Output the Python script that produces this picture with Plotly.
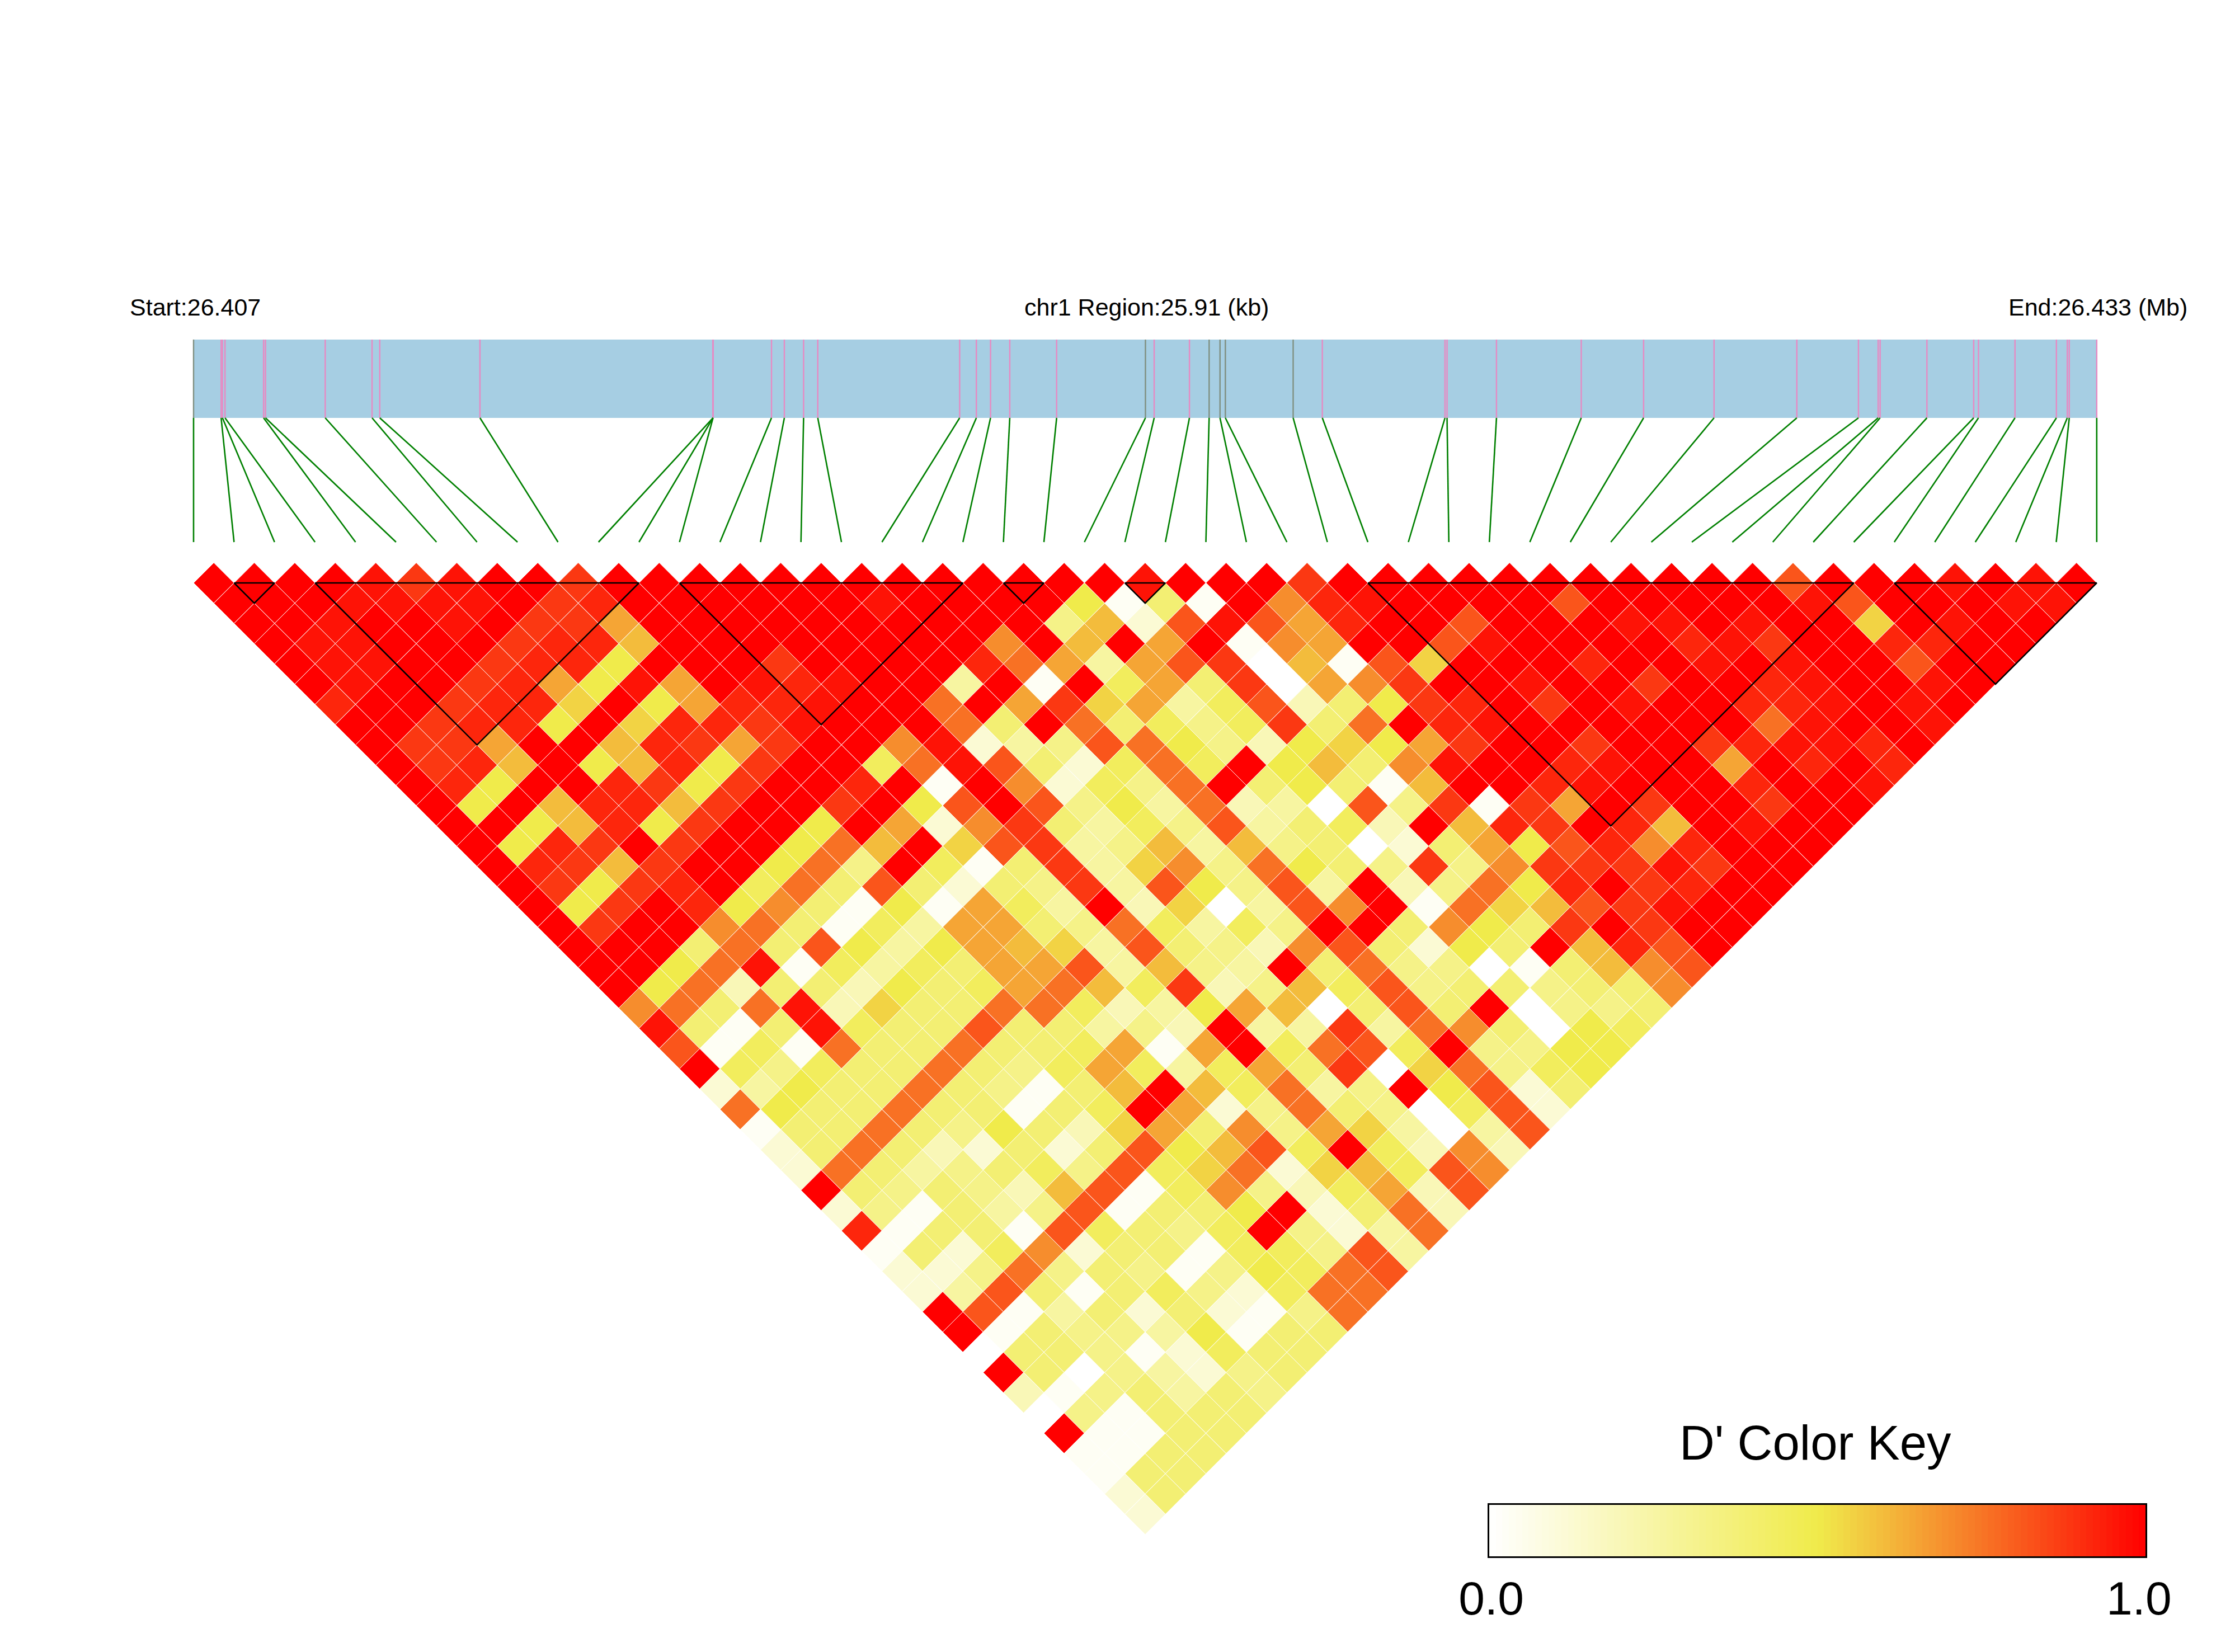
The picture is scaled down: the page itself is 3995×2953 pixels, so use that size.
import plotly.graph_objects as go

# ---------- data ----------
region_kb = 25.91
start_label = "Start:26.407"
region_label = "chr1 Region:25.91 (kb)"
end_label = "End:26.433 (Mb)"
key_title = "D' Color Key"
key_tick_labels = ["0.0", "1.0"]

# SNP positions along the region, in kb from the start
snp_kb = [0, 0.375, 0.393, 0.428, 0.953, 0.979, 1.792, 2.430, 2.535, 3.899,
          7.072, 7.072, 7.072, 7.868, 8.043, 8.305, 8.498, 10.430, 10.657, 10.850,
          11.112, 11.750, 12.959, 13.078, 13.558, 13.826, 13.974, 14.047, 14.970, 15.367,
          17.037, 17.065, 17.738, 18.892, 19.741, 20.700, 21.827, 22.666, 22.934, 22.961,
          23.598, 24.235, 24.300, 24.797, 25.361, 25.509, 25.536, 25.91]
# SNPs whose tick on the bar is drawn grey rather than pink
grey_snps = [0, 22, 25, 26, 27, 28]

# LD blocks as (first SNP, last SNP)
blocks = [(1, 2), (3, 11), (12, 19), (20, 21), (23, 24), (29, 41), (42, 47)]

# D' levels for the letter codes used in the rows below
levels = {"w": 0.0, "a": 0.03, "b": 0.12, "c": 0.2, "d": 0.26, "e": 0.33, "f": 0.39,
          "g": 0.45, "h": 0.5, "i": 0.55, "j": 0.6, "k": 0.65, "l": 0.7, "m": 0.76,
          "n": 0.82, "o": 0.88, "p": 0.92, "q": 0.96, "R": 1.0}

# D' per row: row k holds the pairs (i, i+k), left to right
dprime_rows = [
    "RRRRq oqRRo RRRRR RRRRR RRRqR RRoRR RRRRR RRRRn RRRqR qR",
    "RRRqq qqRop RRRRR RqRRR Rhafa RlpqR RRRnR RRRRq nRRRq q",
    "RRqRR qRook RRRRR RRRRR ejbnq nkpRR nRRRq qRqRR iRqRR",
    "RqqRR Roppj RRRRR RRRlR jRkRa lkRRn qRRRR pqoRR ppRR",
    "RqqRR opphR RRoRR RRpmk dknow janiR RRpRR qRqRR nRR",
    "RqRRo pkhqk RqpqR RdRaR gkfow kloRR qRRoR RpqRR qR",
    "pRRop piRhk ppqRR mRkoi kdgnc fhopR oRqRR ppqRq R",
    "RRopp hRipp oqRRR mfRmf gegof mRpqR RRRRR mqRRq",
    "RookR Rjpok oRRlq bdenm hechi hkoRR oRRop qqpR",
    "RopjR hjpho RRgmq nfbgm gRhjf lqRRp qRRkR pRp",
    "RphRR pohoR RpRaR lbgem Rfhfa jRRpq RRRpR Rq",
    "RhRjp pjoRR oRhnR nehdm cdwne oaokR oRRoR R",
    "RRhjp hoRRh Rkblo fdgen dfgcR jpoRp jRqRR",
    "RhpoR oRRhm jRino dejdj efwbf khnpl pRRR",
    "Rpojo RRhme Rgafo dilem hfeoe loooq oRR",
    "Rohop Rgmfn fbfeo dnhen dRcem hpRop RR",
    "RhoRp hlfah akgdR ciwdn lRami jnoqR R",
    "RoRRl mfagd kkfem gdgeR Rflhf oRoRR",
    "RRRfm fnhdh kjidn fecln fbhfR jpnR",
    "RRhmq agdgf kkndj edRfm eewaf jln",
    "Rhmcf fchfg kmjgo cejgn effef fl",
    "lmfmq ciffm mgcdh kjwfn fRwee f",
    "qfafq gffnf fdecR ddodm lfwhg",
    "nagam ffmff gkakR gmngR eehh",
    "Rgegf fmfeg kgdgk fowim egh",
    "bdhff mfeaf jRjgm deRhn bf",
    "mhffm ffafg Rkbem fewgn b",
    "affmf ehfci kflek idwdn",
    "bfmfc bfbfn hjngR gclc",
    "bmfde fgeng imbij gnl",
    "Rfefe cjnag lecgk cn",
    "beafd enaff hRbfm c",
    "paffa ngfeg Rebdm",
    "afbgl bffag gend",
    "bbeme feaeh gmn",
    "bdnfa fgebg mm",
    "Rnadf bfbae m",
    "Rafee dhaff",
    "wffea bgff",
    "Rfwed bef",
    "caefd fe",
    "weaff f",
    "Raaff",
    "aaff",
    "aff",
    "bf",
    "b",
]

# ---------- page geometry (pixels) ----------
W, H = 3995, 2953
X0, STEP = 346.0, 72.38     # x of first SNP, spacing of SNPs
Y0 = 1042.0                 # y of the top row of cells
BAR_TOP, BAR_BOTTOM, FAN_BOTTOM = 607, 747, 969
KEY_L, KEY_R, KEY_T, KEY_B = 2662, 3835, 2690, 2782
FONT = "Liberation Sans"


def y_of(p):
    return -(p - Y0) / STEP


colorscale = [[0, "#FFFFFF"], [0.5, "#F0EB4B"], [1, "#FF0000"]]
n_snp = len(snp_kb)

# ---------- cells ----------
cell_x, cell_y, cell_v = [], [], []
for k, row in enumerate(dprime_rows, start=1):
    codes = row.replace(" ", "")
    assert len(codes) == n_snp - k, (k, len(codes))
    for i, code in enumerate(codes):
        cell_x.append(i + k / 2)
        cell_y.append(-(k - 1) / 2)
        cell_v.append(levels[code])

fig = go.Figure()
fig.add_trace(go.Scatter(
    x=cell_x, y=cell_y, mode="markers", hoverinfo="skip", showlegend=False,
    marker=dict(symbol="diamond", size=STEP / 1.3, color=cell_v, coloraxis="coloraxis",
                line=dict(color="white", width=1)),
))

# ---------- LD block outlines ----------
bx, by = [], []
for a, b in blocks:
    bx += [a, b, (a + b) / 2, a, None]
    by += [0, 0, -(b - a) / 2, 0, None]
fig.add_trace(go.Scatter(x=bx, y=by, mode="lines", hoverinfo="skip", showlegend=False,
                         line=dict(color="black", width=2.5)))

# ---------- region bar ----------
span = n_snp - 1
bar_x = [kb / region_kb * span for kb in snp_kb]
fig.add_shape(type="rect", x0=0, x1=span, y0=y_of(BAR_BOTTOM), y1=y_of(BAR_TOP),
              fillcolor="#A6CEE3", line=dict(width=0), layer="below")

for grey, colour in ((False, "#E78AC3"), (True, "#7F8F80")):
    lx, ly = [], []
    for i, x in enumerate(bar_x):
        if (i in grey_snps) == grey:
            lx += [x, x, None]
            ly += [y_of(BAR_BOTTOM), y_of(BAR_TOP), None]
    fig.add_trace(go.Scatter(x=lx, y=ly, mode="lines", hoverinfo="skip", showlegend=False,
                             line=dict(color=colour, width=2.4)))

# ---------- connectors from bar to the equally spaced SNP slots ----------
gx, gy = [], []
for i, x in enumerate(bar_x):
    gx += [x, i, None]
    gy += [y_of(BAR_BOTTOM), y_of(FAN_BOTTOM), None]
fig.add_trace(go.Scatter(x=gx, y=gy, mode="lines", hoverinfo="skip", showlegend=False,
                         line=dict(color="#008000", width=2.6)))

# ---------- colour key ----------
key_levels = [(i + 0.5) / 100 for i in range(100)]
fig.add_trace(go.Heatmap(x=key_levels, y=[0], z=[key_levels], coloraxis="coloraxis",
                         xaxis="x2", yaxis="y2", hoverinfo="skip", showscale=False))

# ---------- texts ----------
labels = [(start_label, 349), (region_label, 2049), (end_label, 3750)]
annotations = [dict(text=t, x=p / W, y=1 - 549 / H, xref="paper", yref="paper",
                    xanchor="center", yanchor="middle", showarrow=False,
                    font=dict(family=FONT, size=43, color="black")) for t, p in labels]
annotations.append(dict(text=key_title, x=3245 / W, y=1 - 2578 / H, xref="paper", yref="paper",
                        xanchor="center", yanchor="middle", showarrow=False,
                        font=dict(family=FONT, size=87, color="black")))

fig.update_layout(
    template="none",
    width=W, height=H, autosize=False,
    margin=dict(l=0, r=0, t=0, b=0, pad=0),
    paper_bgcolor="white", plot_bgcolor="rgba(0,0,0,0)",
    annotations=annotations,
    showlegend=False,
    coloraxis=dict(colorscale=colorscale, cmin=0, cmax=1, showscale=False),
    xaxis=dict(domain=[0, 1], range=[-X0 / STEP, (W - X0) / STEP], visible=False,
               fixedrange=True, automargin=False),
    yaxis=dict(domain=[0, 1], range=[y_of(H), y_of(0)], visible=False,
               fixedrange=True, automargin=False),
    xaxis2=dict(domain=[KEY_L / W, KEY_R / W], range=[0, 1], anchor="y2", automargin=False,
                tickvals=[0.003, 0.99], ticktext=key_tick_labels, ticks="", showgrid=False,
                zeroline=False, showline=True, mirror=True, linecolor="black", linewidth=3,
                tickfont=dict(family=FONT, size=84, color="black"), fixedrange=True),
    yaxis2=dict(domain=[1 - KEY_B / H, 1 - KEY_T / H], range=[-0.5, 0.5], anchor="x2", automargin=False,
                showticklabels=False, ticks="", showgrid=False, zeroline=False,
                showline=True, mirror=True, linecolor="black", linewidth=3, fixedrange=True),
)

fig.write_html("out.html", config={"displayModeBar": False},
               post_script="document.body.style.margin='0';")
